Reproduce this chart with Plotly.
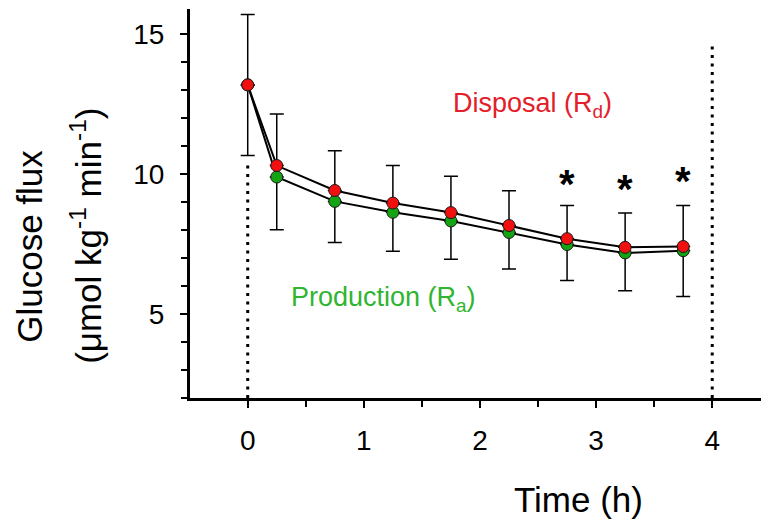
import plotly.graph_objects as go

# ---- data ----
time_h = [0, 0.25, 0.75, 1.25, 1.75, 2.25, 2.75, 3.25, 3.75]
rd_mean = [13.18, 10.30, 9.41, 8.96, 8.62, 8.16, 7.69, 7.38, 7.41]   # Disposal (Rd)
ra_mean = [13.18, 9.89, 9.02, 8.63, 8.32, 7.91, 7.48, 7.18, 7.26]    # Production (Ra)
rd_err_up = [2.51, 1.84, 1.42, 1.34, 1.30, 1.24, 1.18, 1.23, 1.46]
ra_err_down = [2.52, 1.88, 1.47, 1.39, 1.37, 1.30, 1.28, 1.35, 1.64]

star_time = [2.75, 3.25, 3.75]
star_y = [9.98, 9.80, 10.06]

dotted_x = [0, 4]
dotted_top = [10.44, 14.71]

x_ticks = [0, 1, 2, 3, 4]
y_ticks = [5, 10, 15]

FONT = "Liberation Sans, Arial, sans-serif"
n = len(time_h)

fig = go.Figure()

fig.add_trace(go.Scatter(
    x=time_h, y=ra_mean, mode="lines+markers", name="Production (Ra)",
    line=dict(color="black", width=2),
    marker=dict(color="#13a313", size=12, line=dict(color="#1a1a1a", width=1)),
    error_y=dict(type="data", symmetric=False, array=[0] * n, arrayminus=ra_err_down,
                 color="black", thickness=1.5, width=7),
    showlegend=False,
))
fig.add_trace(go.Scatter(
    x=time_h, y=rd_mean, mode="lines+markers", name="Disposal (Rd)",
    line=dict(color="black", width=2),
    marker=dict(color="#f01010", size=12, line=dict(color="#1a1a1a", width=1)),
    error_y=dict(type="data", symmetric=False, array=rd_err_up, arrayminus=[0] * n,
                 color="black", thickness=1.5, width=7),
    showlegend=False,
))

for xv, yt in zip(dotted_x, dotted_top):
    fig.add_shape(type="line", xref="x", yref="y", x0=xv, x1=xv, y0=2.0, y1=yt,
                  line=dict(color="black", width=3, dash="3px,5.5px"), layer="below")

annotations = []
for xs, ys in zip(star_time, star_y):
    annotations.append(dict(x=xs, y=ys, xref="x", yref="y", text="<b>*</b>", showarrow=False,
                            font=dict(family=FONT, size=40, color="black"),
                            xanchor="center", yanchor="middle", yshift=-9))

annotations += [
    dict(x=2.45, y=12.48, xref="x", yref="y", text="Disposal (R<sub>d</sub>)", showarrow=False,
         font=dict(family=FONT, size=27, color="#e3202a"), xanchor="center", yanchor="middle"),
    dict(x=1.17, y=5.55, xref="x", yref="y", text="Production (R<sub>a</sub>)", showarrow=False,
         font=dict(family=FONT, size=27, color="#2fb52f"), xanchor="center", yanchor="middle"),
    dict(x=-0.280, y=0.389, xref="paper", yref="paper", text="Glucose flux", showarrow=False,
         textangle=-90, font=dict(family=FONT, size=35, color="black"),
         xanchor="center", yanchor="middle"),
    dict(x=-0.182, y=0.417, xref="paper", yref="paper",
         text="(μmol kg<sup>-1</sup> min<sup>-1</sup>)", showarrow=False,
         textangle=-90, font=dict(family=FONT, size=35, color="black"),
         xanchor="center", yanchor="middle"),
    dict(x=0.681, y=-0.261, xref="paper", yref="paper", text="Time (h)", showarrow=False,
         font=dict(family=FONT, size=35, color="black"), xanchor="center", yanchor="middle"),
]

fig.update_layout(
    width=761, height=524,
    margin=dict(l=190, r=0, t=9, b=126),
    paper_bgcolor="white", plot_bgcolor="white",
    font=dict(family=FONT, color="black"),
    annotations=annotations,
    showlegend=False,
)

fig.update_xaxes(
    range=[-0.497, 4.42], showgrid=False, zeroline=False,
    showline=True, linecolor="black", linewidth=3,
    tickmode="array", tickvals=x_ticks, ticktext=[str(v) for v in x_ticks],
    ticks="outside", ticklen=7, tickwidth=1.5, tickcolor="black",
    tickfont=dict(family=FONT, size=28, color="black"),
    minor=dict(dtick=0.5, tick0=0, ticks="outside", ticklen=6, tickwidth=1.5, tickcolor="black"),
    ticklabelstandoff=8,
)
fig.update_yaxes(
    range=[2.0, 15.89], showgrid=False, zeroline=False,
    showline=True, linecolor="black", linewidth=3,
    tickmode="array", tickvals=y_ticks, ticktext=[str(v) for v in y_ticks],
    ticks="outside", ticklen=7, tickwidth=1.5, tickcolor="black",
    tickfont=dict(family=FONT, size=28, color="black"),
    minor=dict(dtick=1, tick0=0, ticks="outside", ticklen=6, tickwidth=1.5, tickcolor="black"),
    ticklabelstandoff=10,
)

fig.write_html("out.html")
